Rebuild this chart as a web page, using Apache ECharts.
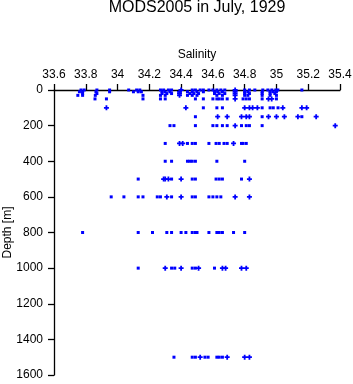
<!DOCTYPE html>
<html>
<head>
<meta charset="utf-8">
<script src="https://cdn.jsdelivr.net/npm/echarts@6/dist/echarts.min.js"></script>
<style>
  html, body { margin: 0; padding: 0; background: #fff; }
  #chart { width: 353px; height: 384px; }
</style>
</head>
<body>
<div id="chart"></div>
<script>
// salinity ticks / depth ticks
var salTicks = [33.6, 33.8, 34, 34.2, 34.4, 34.6, 34.8, 35, 35.2, 35.4];
var depthTicks = [0, 200, 400, 600, 800, 1000, 1200, 1400, 1600];

// points drawn as small squares
var sqSal = [
    // 0 m
    33.77, 33.79, 33.87, 33.95, 34.07, 34.12, 34.14, 34.27, 34.29, 34.32, 34.34, 34.47, 34.49, 34.52, 34.54,
    34.575, 34.60, 34.625, 34.65, 34.675, 34.80, 34.83, 34.864, 34.914, 34.946, 34.971, 34.996, 35.009, 35.16,
    // 10 m
    33.76, 33.78, 33.864, 33.95, 34.10, 34.13, 34.15, 34.28, 34.30, 34.33, 34.44, 34.47, 34.50, 34.54,
    34.61, 34.63, 34.66, 34.80, 34.82, 34.91, 34.96, 34.98, 35.00,
    // 20 m
    33.78, 33.87, 34.28, 34.31, 34.34, 34.455, 34.48, 34.51, 34.61, 34.64, 34.675, 34.80, 34.83, 34.91, 34.96, 34.99,
    // 30 m
    33.75, 33.78, 33.86, 34.16, 34.27, 34.30, 34.44, 34.47, 34.50, 34.625, 34.66, 34.80, 34.82, 34.91, 34.96, 35.00,
    // 50 m
    33.858, 33.93, 34.16, 34.27, 34.30, 34.49, 34.54, 34.60, 34.625, 34.64, 34.66, 34.69, 34.79, 34.81, 34.83,
    34.91, 35.00,
    // 100 m
    34.54, 34.625, 34.66, 34.91, 34.96, 34.98, 35.01,
    // 150 m
    34.49, 34.91, 35.16,
    // 200 m
    34.33, 34.355, 34.49, 34.60, 34.625, 34.66, 34.69, 34.78, 34.81, 34.83, 34.91,
    // 300 m
    34.30, 34.44, 34.47, 34.49, 34.575, 34.62, 34.64, 34.67, 34.69, 34.78, 34.79, 34.81,
    // 400 m
    34.30, 34.34, 34.44, 34.455, 34.47, 34.49, 34.625, 34.80,
    // 500 m
    34.13, 34.34, 34.47, 34.49, 34.62, 34.64, 34.66, 34.78,
    // 600 m
    33.96, 34.04, 34.13, 34.16, 34.25, 34.27, 34.34, 34.47, 34.49, 34.575, 34.60, 34.625, 34.65,
    // 800 m
    33.78, 34.13, 34.22, 34.31, 34.34, 34.40, 34.43, 34.47, 34.49, 34.50, 34.575, 34.625, 34.64, 34.66, 34.73, 34.80,
    // 1000 m
    34.13, 34.34, 34.36, 34.47, 34.49, 34.61,
    // 1500 m
    34.355, 34.47, 34.49, 34.55, 34.57, 34.625, 34.64, 34.66
];
var sqDepth = [
    0, 0, 0, 0, 0, 0, 0, 0, 0, 0, 0, 0, 0, 0, 0,
    0, 0, 0, 0, 0, 0, 0, 0, 0, 0, 0, 0, 0, 0,
    10, 10, 10, 10, 10, 10, 10, 10, 10, 10, 10, 10, 10, 10,
    10, 10, 10, 10, 10, 10, 10, 10, 10,
    20, 20, 20, 20, 20, 20, 20, 20, 20, 20, 20, 20, 20, 20, 20, 20,
    30, 30, 30, 30, 30, 30, 30, 30, 30, 30, 30, 30, 30, 30, 30, 30,
    50, 50, 50, 50, 50, 50, 50, 50, 50, 50, 50, 50, 50, 50, 50,
    50, 50,
    100, 100, 100, 100, 100, 100, 100,
    150, 150, 150,
    200, 200, 200, 200, 200, 200, 200, 200, 200, 200, 200,
    300, 300, 300, 300, 300, 300, 300, 300, 300, 300, 300, 300,
    400, 400, 400, 400, 400, 400, 400, 400,
    500, 500, 500, 500, 500, 500, 500, 500,
    600, 600, 600, 600, 600, 600, 600, 600, 600, 600, 600, 600, 600,
    800, 800, 800, 800, 800, 800, 800, 800, 800, 800, 800, 800, 800, 800, 800, 800,
    1000, 1000, 1000, 1000, 1000, 1000,
    1500, 1500, 1500, 1500, 1500, 1500, 1500, 1500
];

// points drawn as small crosses
var plSal = [
    34.40, 34.39, 34.39, 34.39, 34.74, 34.74, 34.74, 34.74, 34.74, 34.95, 34.97,
    33.93, 34.43, 34.80, 34.83, 34.85, 34.88, 35.04, 35.16, 35.19,
    34.63, 34.69, 34.78, 34.81, 34.83, 34.95, 35.00, 35.05, 35.135, 35.25,
    34.74, 35.37,
    34.39, 34.41, 34.73,
    34.29, 34.30, 34.32, 34.40, 34.83,
    34.31, 34.40, 34.74, 34.83,
    34.30, 34.40, 34.51, 34.66, 34.68, 34.78, 34.81,
    34.52, 34.69, 34.80, 34.83
];
var plDepth = [
    0, 10, 20, 30, 0, 10, 20, 30, 50, 50, 50,
    100, 100, 100, 100, 100, 100, 100, 100, 100,
    150, 150, 150, 150, 150, 150, 150, 150, 150, 150,
    200, 200,
    300, 300, 300,
    500, 500, 500, 500, 500,
    600, 600, 600, 600,
    1000, 1000, 1000, 1000, 1000, 1000, 1000,
    1500, 1500, 1500, 1500
];

var font = 'Liberation Sans, Arial, sans-serif';

function pairs(xs, ys) {
    var out = [];
    for (var i = 0; i < xs.length; i++) out.push([xs[i], ys[i]]);
    return out;
}

var chart = echarts.init(document.getElementById('chart'), null, { renderer: 'canvas' });

var option = {
    animation: false,
    backgroundColor: '#fff',
    title: {
        text: 'MODS2005 in July, 1929',
        left: 197,
        top: 0,
        padding: 0,
        textAlign: 'center',
        textStyle: { fontFamily: font, fontSize: 16, fontWeight: 'normal', color: '#000' }
    },
    grid: { left: 54, right: 13, top: 90, bottom: 9, containLabel: false, outerBoundsMode: 'none' },
    xAxis: {
        type: 'value',
        position: 'top',
        min: salTicks[0],
        max: salTicks[salTicks.length - 1],
        interval: 0.2,
        name: 'Salinity',
        nameLocation: 'middle',
        nameGap: 29,
        nameMoveOverlap: false,
        nameTextStyle: { fontFamily: font, fontSize: 12, color: '#000' },
        axisLine: { show: true, onZero: false, lineStyle: { color: '#000', width: 1.3 } },
        axisTick: { show: true, inside: false, length: 6, lineStyle: { color: '#000', width: 1.3 } },
        axisLabel: {
            margin: 9, fontFamily: font, fontSize: 12, color: '#000',
            formatter: function (v) { return String(Math.round(v * 10) / 10); }
        },
        splitLine: { show: false }
    },
    yAxis: {
        type: 'value',
        inverse: true,
        min: depthTicks[0],
        max: depthTicks[depthTicks.length - 1],
        interval: 200,
        name: 'Depth [m]',
        nameLocation: 'middle',
        nameRotate: 90,
        nameGap: 46,
        nameMoveOverlap: false,
        nameTextStyle: { fontFamily: font, fontSize: 12, color: '#000', verticalAlign: 'middle' },
        axisLine: { show: true, onZero: false, lineStyle: { color: '#000', width: 1.3 } },
        axisTick: { show: true, inside: false, length: 6, lineStyle: { color: '#000', width: 1.3 } },
        axisLabel: {
            margin: 11, fontFamily: font, fontSize: 12, color: '#000',
            formatter: function (v) { return String(v); }
        },
        splitLine: { show: false }
    },
    series: [{
        type: 'scatter',
        symbol: 'rect',
        symbolSize: 3,
        itemStyle: { color: '#0000ff', opacity: 1 },
        data: pairs(sqSal, sqDepth)
    }, {
        type: 'scatter',
        symbol: 'path://M1.6,0H3.4V1.6H5V3.4H3.4V5H1.6V3.4H0V1.6H1.6Z',
        symbolSize: 5,
        itemStyle: { color: '#0000ff', opacity: 1 },
        data: pairs(plSal, plDepth)
    }]
};

chart.setOption(option);
</script>
</body>
</html>
